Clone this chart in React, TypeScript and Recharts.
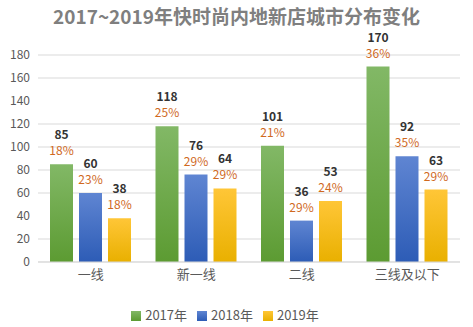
import React from 'react';
import { BarChart, Bar, XAxis, YAxis, CartesianGrid, Legend, LabelList } from 'recharts';

const categories = ['一线', '新一线', '二线', '三线及以下'];
const values2017 = [85, 118, 101, 170];
const values2018 = [60, 76, 36, 92];
const values2019 = [38, 64, 53, 63];
const share2017 = ['18%', '25%', '21%', '36%'];
const share2018 = ['23%', '29%', '29%', '35%'];
const share2019 = ['18%', '29%', '24%', '29%'];
const yTicks = [0, 20, 40, 60, 80, 100, 120, 140, 160, 180];

const data = categories.map((name, i) => ({
  name,
  y2017: values2017[i],
  y2018: values2018[i],
  y2019: values2019[i],
}));

const font = '"Noto Sans CJK SC", "Noto Sans", sans-serif';

const makeLabel = (shares: string[]) => (props: any) => {
  const { x, y, width, value, index } = props;
  const cx = x + width / 2;
  return (
    <g>
      <text x={cx} y={y - 25} textAnchor="middle" fontSize={12} fontWeight={700} fill="#333" fontFamily={font}>
        {value}
      </text>
      <text x={cx} y={y - 9} textAnchor="middle" fontSize={12} fill="#d0691e" fontFamily={font}>
        {shares[index]}
      </text>
    </g>
  );
};

const App: React.FC = () => {
  return (
    <div style={{ position: 'fixed', left: 0, top: 0, width: 473, height: 327, background: '#fff', fontFamily: font }}>
      <div style={{ position: 'absolute', left: 0, top: 6, width: 473, textAlign: 'center', fontSize: 19, lineHeight: '20px', fontWeight: 700, color: '#7f7f7f' }}>
        2017~2019年快时尚内地新店城市分布变化
      </div>
      <BarChart
        width={473}
        height={327}
        data={data}
        margin={{ top: 55, right: 13, left: 0, bottom: 3 }}
        barGap={6}
        barSize={23}
      >
        <defs>
          <linearGradient id="g17" x1="0" y1="0" x2="0" y2="1">
            <stop offset="0%" stopColor="#82b866" />
            <stop offset="100%" stopColor="#5c9b32" />
          </linearGradient>
          <linearGradient id="g18" x1="0" y1="0" x2="0" y2="1">
            <stop offset="0%" stopColor="#5f85d2" />
            <stop offset="100%" stopColor="#2d5cb6" />
          </linearGradient>
          <linearGradient id="g19" x1="0" y1="0" x2="0" y2="1">
            <stop offset="0%" stopColor="#ffc637" />
            <stop offset="100%" stopColor="#e9b000" />
          </linearGradient>
        </defs>
        <CartesianGrid vertical={false} stroke="#d9d9d9" />
        <XAxis
          dataKey="name"
          axisLine={{ stroke: '#d9d9d9' }}
          tickLine={false}
          height={30}
          tick={{ fontSize: 13, fill: '#595959', fontFamily: font }}
        />
        <YAxis
          width={38}
          domain={[0, 180]}
          ticks={yTicks}
          axisLine={false}
          tickLine={false}
          tick={{ fontSize: 12, fill: '#595959', fontFamily: font }}
        />
        <Legend
          verticalAlign="bottom"
          iconType="square"
          iconSize={10}
          wrapperStyle={{ fontSize: 13, color: '#595959', fontFamily: font, paddingTop: 13 }}
          formatter={(v: string) => <span style={{ color: '#595959' }}>{v}</span>}
        />
        <Bar dataKey="y2017" name="2017年" fill="url(#g17)" legendType="square" isAnimationActive={false}>
          <LabelList dataKey="y2017" content={makeLabel(share2017)} />
        </Bar>
        <Bar dataKey="y2018" name="2018年" fill="url(#g18)" legendType="square" isAnimationActive={false}>
          <LabelList dataKey="y2018" content={makeLabel(share2018)} />
        </Bar>
        <Bar dataKey="y2019" name="2019年" fill="url(#g19)" legendType="square" isAnimationActive={false}>
          <LabelList dataKey="y2019" content={makeLabel(share2019)} />
        </Bar>
      </BarChart>
    </div>
  );
};

export default App;
